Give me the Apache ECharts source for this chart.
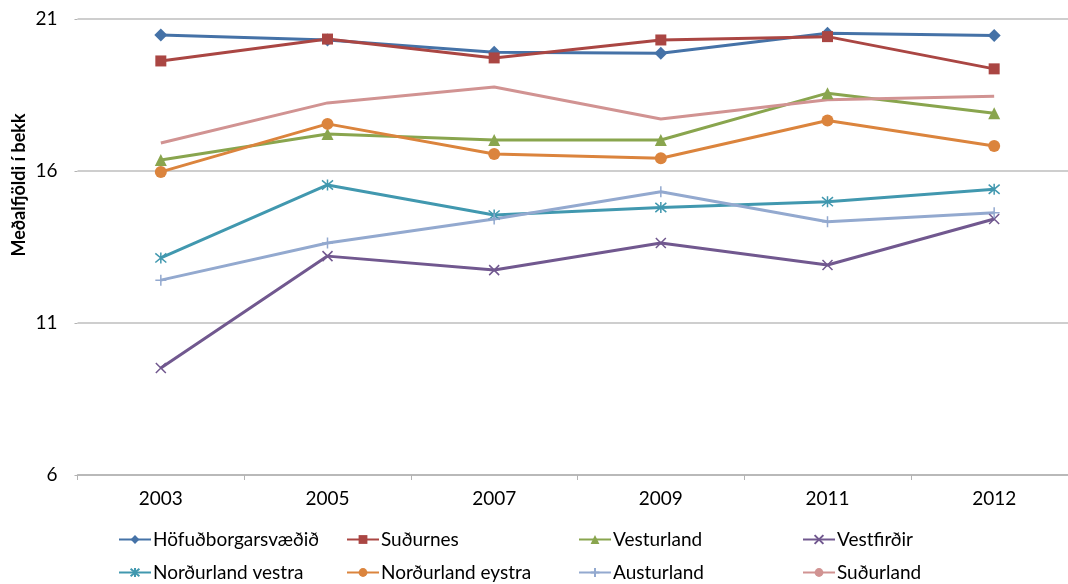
<!DOCTYPE html>
<html>
<head>
<meta charset="utf-8">
<script src="https://cdn.jsdelivr.net/npm/echarts@6/dist/echarts.min.js"></script>
<style>
  html, body { margin:0; padding:0; background:#fff; }
  #chart { width:1068px; height:584px; }
</style>
</head>
<body>
<div id="chart"></div>
<script>
// ár
var years = ['2003', '2005', '2007', '2009', '2011', '2012'];

// meðalfjöldi nemenda í bekk eftir landshlutum
var hofudborg = [20.47, 20.31, 19.91, 19.87, 20.53, 20.46];
var sudurnes = [19.62, 20.34, 19.72, 20.31, 20.42, 19.36];
var vesturland = [16.36, 17.22, 17.02, 17.02, 18.56, 17.90];
var vestfirdir = [9.52, 13.20, 12.74, 13.63, 12.91, 14.42];
var nlVestra = [13.14, 15.54, 14.55, 14.80, 14.99, 15.40];
var nlEystra = [15.97, 17.55, 16.56, 16.42, 17.66, 16.82];
var austurland = [12.41, 13.63, 14.42, 15.32, 14.33, 14.63];
var sudurland = [16.92, 18.24, 18.76, 17.71, 18.34, 18.46];

var yTicks = [6, 11, 16, 21];

var FONT = 'Lato, "Open Sans", sans-serif';

var xMark = 'path://M0,0L10,10M10,0L0,10';
var starMark = 'path://M0,0L10,10M10,0L0,10M5,-1L5,11';
var plusMark = 'path://M5,0L5,10M0,5L10,5';

function mkSeries(name, data, color, symbol, size, stroked) {
    return {
        name: name,
        type: 'line',
        data: data,
        symbol: symbol,
        symbolSize: size,
        showSymbol: symbol !== 'none',
        lineStyle: { color: color, width: 3 },
        itemStyle: stroked
            ? { color: color, borderColor: color, borderWidth: 1.5 }
            : { color: color },
        emphasis: { disabled: true },
        animation: false,
        z: 3
    };
}

var series = [
    mkSeries('Höfuðborgarsvæðið', hofudborg, '#4572A7', 'diamond', 13),
    mkSeries('Suðurnes', sudurnes, '#AA4643', 'rect', 11),
    mkSeries('Vesturland', vesturland, '#89A54E', 'triangle', 12),
    mkSeries('Vestfirðir', vestfirdir, '#71588F', xMark, 10, true),
    mkSeries('Norðurland vestra', nlVestra, '#4198AF', starMark, 11, true),
    mkSeries('Norðurland eystra', nlEystra, '#DB843D', 'circle', 12),
    mkSeries('Austurland', austurland, '#93A9CF', plusMark, 11, true),
    mkSeries('Suðurland', sudurland, '#D19392', 'none', 1)
];

// legend: 4 dálkar, 2 raðir
var legendLeft = [118, 346, 578, 802];
var legendTop = [530, 563];
var legends = series.map(function (s, i) {
    return {
        data: [s.name],
        left: legendLeft[i % 4],
        top: legendTop[Math.floor(i / 4)],
        itemWidth: 32,
        itemHeight: 11,
        itemGap: 0,
        padding: 0,
        selectedMode: false,
        textStyle: { fontFamily: FONT, fontSize: 19, color: '#000', padding: [0, 0, 0, -3] }
    };
});

var chart = echarts.init(document.getElementById('chart'), null, { renderer: 'canvas' });

chart.setOption({
    backgroundColor: '#fff',
    animation: false,
    grid: { left: 77.5, width: 1000, top: 19, bottom: 109, containLabel: false, outerBoundsMode: 'none' },
    legend: legends,
    xAxis: {
        type: 'category',
        data: years,
        boundaryGap: true,
        axisLine: { lineStyle: { color: '#B3B3B3', width: 1.5 } },
        axisTick: { show: true, length: 5, lineStyle: { color: '#B3B3B3' } },
        axisLabel: { color: '#000', fontFamily: FONT, fontSize: 19, margin: 14 }
    },
    yAxis: {
        type: 'value',
        min: yTicks[0],
        max: yTicks[yTicks.length - 1],
        interval: 5,
        axisLine: { show: false },
        axisTick: { show: true, length: 3, lineStyle: { color: '#B3B3B3' } },
        splitLine: { lineStyle: { color: '#BEBEBE', width: 1.5 } },
        axisLabel: { color: '#000', fontFamily: FONT, fontSize: 19, margin: 20 }
    },
    graphic: [{
        type: 'text',
        x: 19,
        y: 185,
        rotation: Math.PI / 2,
        style: {
            text: 'Meðalfjöldi í bekk',
            fill: '#000',
            font: 'bold 18px ' + FONT,
            textAlign: 'center',
            textVerticalAlign: 'middle'
        }
    }],
    series: series
});
</script>
</body>
</html>
